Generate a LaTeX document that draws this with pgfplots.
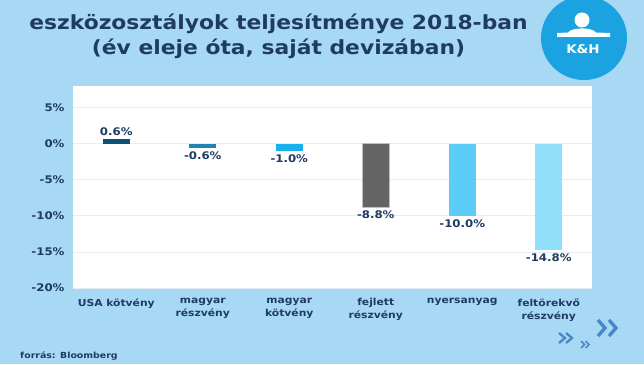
\documentclass[border=0pt]{standalone}
\usepackage{pgfplots}
\pgfplotsset{compat=1.18}
\usepackage{fontspec}
\setmainfont{DejaVu Sans}[FakeStretch=1.12]
\definecolor{bg}{HTML}{A8D9F4}
\definecolor{logo}{HTML}{1AA3E0}
\definecolor{navy}{HTML}{1F3B63}
\definecolor{chev}{HTML}{4A86C8}
\definecolor{gridc}{HTML}{E2EDF5}
\definecolor{cA}{HTML}{0D5272}
\definecolor{cB}{HTML}{1E84B3}
\definecolor{cC}{HTML}{1AB0EC}
\definecolor{cD}{HTML}{646464}
\definecolor{cE}{HTML}{5CCDF7}
\definecolor{cF}{HTML}{92DFFC}
\begin{document}
\begin{tikzpicture}[x=1pt,y=1pt]
\fill[bg] (0,0) rectangle (644,364);
\begin{scope}
\clip (0,0) rectangle (644,364);
\fill[logo] (584,326) ellipse [x radius=43, y radius=42];
\end{scope}
\fill[white] (582,344) circle (7.5);
\fill[white] (557,327) -- (610,327) -- (610,331) -- (596,331.5) .. controls (592,337) and (572,337) .. (568,331.5) -- (557,331) -- cycle;
\node[white, font=\bfseries\fontsize{12}{12}\selectfont] at (583,315) {K\&H};
\node[navy, font=\bfseries\fontsize{19.5}{25}\selectfont, anchor=base] at (278.5,334) {eszközosztályok teljesítménye 2018-ban};
\node[navy, font=\bfseries\fontsize{19.5}{25}\selectfont, anchor=base] at (278.5,309) {(év eleje óta, saját devizában)};
\node[navy, font=\bfseries\fontsize{8.4}{8.4}\selectfont, anchor=base west, inner sep=0pt] at (20,6) {forrás: Bloomberg};
% chevrons
\begin{scope}[chev, line width=3.4pt, line cap=butt, line join=miter]
\draw (598,44) -- (605,36) -- (598,28);
\draw (609,44) -- (616,36) -- (609,28);
\end{scope}
\begin{scope}[chev, line width=2.3pt]
\draw (559,31) -- (565,26) -- (559,21);
\draw (566,31) -- (572,26) -- (566,21);
\end{scope}
\begin{scope}[chev, line width=1.5pt]
\draw (581,23) -- (584.5,19.5) -- (581,16);
\draw (585.5,23) -- (589,19.5) -- (585.5,16);
\end{scope}
\begin{axis}[
  at={(73pt,76pt)}, anchor=south west,
  scale only axis, width=519pt, height=202pt,
  xmin=-0.5, xmax=5.5, ymin=-20, ymax=8,
  ybar, bar width=27pt,
  axis background/.style={fill=white},
  axis line style={draw=none},
  major tick length=0pt,
  ytick={-20,-15,-10,-5,0,5},
  yticklabels={-20\%,-15\%,-10\%,-5\%,0\%,5\%},
  yticklabel style={navy, font=\bfseries\fontsize{10.5}{12}\selectfont, xshift=-5pt},
  xtick={0,1,2,3,4,5},
  xticklabels={USA kötvény,{magyar\\részvény},{magyar\\kötvény},{fejlett\\részvény},nyersanyag,{feltörekvő\\részvény}},
  xticklabel style={navy, font=\bfseries\fontsize{9.6}{13}\selectfont, align=center, anchor=north, yshift=-7pt},
  ymajorgrids, grid style={gridc, line width=0.8pt},
  nodes near coords={\pgfmathprintnumber[fixed,fixed zerofill,precision=1,assume math mode=true]{\pgfplotspointmeta}\%},
  nodes near coords align={vertical},
  every node near coord/.append style={navy, font=\bfseries\fontsize{10.5}{12}\selectfont},
]
\addplot[fill=cA, draw=none, bar shift=0pt] coordinates {(0,0.6)};
\addplot[fill=cB, draw=none, bar shift=0pt] coordinates {(1,-0.6)};
\addplot[fill=cC, draw=none, bar shift=0pt] coordinates {(2,-1.0)};
\addplot[fill=cD, draw=black!25, line width=1pt, bar shift=0pt] coordinates {(3,-8.8)};
\addplot[fill=cE, draw=none, bar shift=0pt] coordinates {(4,-10.0)};
\addplot[fill=cF, draw=none, bar shift=0pt] coordinates {(5,-14.8)};
\end{axis}
\end{tikzpicture}
\end{document}
